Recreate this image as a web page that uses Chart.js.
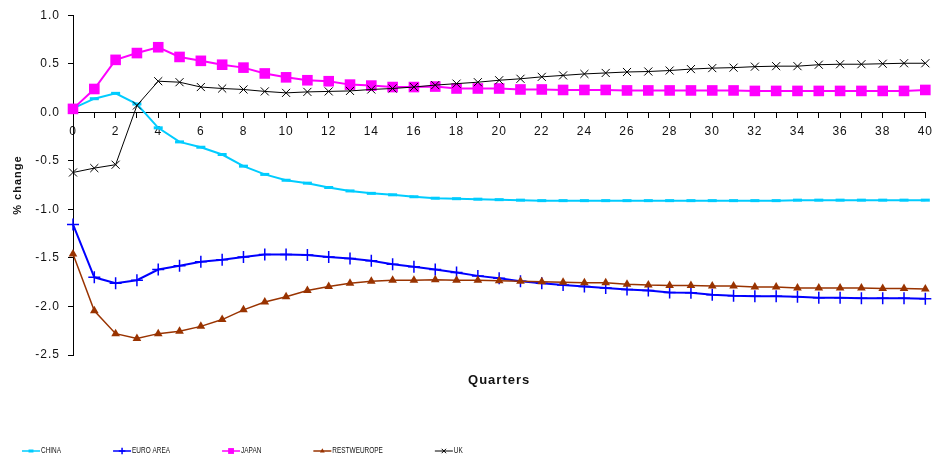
<!DOCTYPE html>
<html>
<head>
<meta charset="utf-8">
<script src="https://cdn.jsdelivr.net/npm/chart.js@4/dist/chart.umd.min.js"></script>
<style>
  html, body { margin: 0; padding: 0; background: #fff; }
  #wrap { width: 940px; height: 461px; }
</style>
</head>
<body>
<div id="wrap"><canvas id="chart" width="940" height="461"></canvas></div>
<script>
var quarters = [0, 1, 2, 3, 4, 5, 6, 7, 8, 9, 10, 11, 12, 13, 14, 15, 16, 17, 18, 19, 20,
  21, 22, 23, 24, 25, 26, 27, 28, 29, 30, 31, 32, 33, 34, 35, 36, 37, 38, 39, 40];

var china = [0.04, 0.14, 0.195, 0.085, -0.16, -0.305, -0.36, -0.435, -0.555, -0.64, -0.70,
  -0.73, -0.775, -0.81, -0.835, -0.85, -0.87, -0.885, -0.89, -0.895, -0.90,
  -0.905, -0.91, -0.91, -0.91, -0.91, -0.91, -0.91, -0.91, -0.91, -0.91,
  -0.91, -0.91, -0.91, -0.905, -0.905, -0.905, -0.905, -0.905, -0.905, -0.905];

var euroArea = [-1.155, -1.70, -1.76, -1.73, -1.62, -1.58, -1.54, -1.52, -1.49, -1.465, -1.465,
  -1.47, -1.49, -1.505, -1.53, -1.565, -1.59, -1.62, -1.65, -1.685, -1.71,
  -1.74, -1.76, -1.78, -1.795, -1.81, -1.825, -1.835, -1.855, -1.86, -1.88,
  -1.89, -1.895, -1.895, -1.90, -1.91, -1.91, -1.915, -1.915, -1.915, -1.92];

var japan = [0.035, 0.24, 0.54, 0.61, 0.67, 0.57, 0.53, 0.49, 0.46, 0.40, 0.36,
  0.33, 0.32, 0.285, 0.275, 0.26, 0.26, 0.265, 0.245, 0.245, 0.245,
  0.235, 0.235, 0.23, 0.23, 0.23, 0.225, 0.225, 0.225, 0.225, 0.225,
  0.225, 0.22, 0.22, 0.22, 0.22, 0.22, 0.22, 0.22, 0.22, 0.23];

var restWEurope = [-1.46, -2.045, -2.28, -2.33, -2.28, -2.255, -2.205, -2.135, -2.035, -1.955, -1.90,
  -1.835, -1.795, -1.76, -1.74, -1.73, -1.73, -1.725, -1.73, -1.73, -1.735,
  -1.74, -1.745, -1.75, -1.755, -1.755, -1.77, -1.78, -1.785, -1.785, -1.79,
  -1.79, -1.80, -1.80, -1.81, -1.81, -1.81, -1.81, -1.815, -1.815, -1.82];

var uk = [-0.62, -0.575, -0.54, 0.07, 0.32, 0.31, 0.26, 0.245, 0.235, 0.215, 0.20,
  0.21, 0.215, 0.22, 0.235, 0.245, 0.26, 0.28, 0.295, 0.31, 0.33,
  0.345, 0.365, 0.38, 0.395, 0.405, 0.415, 0.42, 0.43, 0.445, 0.455,
  0.46, 0.47, 0.475, 0.475, 0.49, 0.495, 0.495, 0.50, 0.505, 0.505];

var seriesNames = ["CHINA", "EURO AREA", "JAPAN", "RESTWEUROPE", "UK"];

var FONT = '"Liberation Sans", Arial, sans-serif';

// the Excel export looks letter-spaced, canvas can do that
var spacingPlugin = {
  id: "spacing",
  beforeLayout: function (chart) { chart.ctx.letterSpacing = "1px"; },
  beforeDraw: function (chart) { chart.ctx.letterSpacing = "1px"; }
};

function legendMarker(ctx, style, cx, cy, r) {
  ctx.beginPath();
  if (style === "line") {
    ctx.moveTo(cx - r, cy); ctx.lineTo(cx + r, cy); ctx.stroke();
  } else if (style === "cross") {
    ctx.moveTo(cx - r, cy); ctx.lineTo(cx + r, cy);
    ctx.moveTo(cx, cy - r); ctx.lineTo(cx, cy + r); ctx.stroke();
  } else if (style === "crossRot") {
    var d = r * Math.SQRT1_2;
    ctx.moveTo(cx - d, cy - d); ctx.lineTo(cx + d, cy + d);
    ctx.moveTo(cx + d, cy - d); ctx.lineTo(cx - d, cy + d); ctx.stroke();
  } else if (style === "rect") {
    var s = r * Math.SQRT1_2;
    ctx.fillRect(cx - s, cy - s, 2 * s, 2 * s);
  } else if (style === "triangle") {
    ctx.moveTo(cx, cy - r);
    ctx.lineTo(cx + r * 0.866, cy + r * 0.5);
    ctx.lineTo(cx - r * 0.866, cy + r * 0.5);
    ctx.closePath(); ctx.fill();
  }
}

var legendPlugin = {
  id: "sheetLegend",
  afterDraw: function (chart) {
    var ctx = chart.ctx;
    var x = 22, y = 451;
    ctx.save();
    ctx.letterSpacing = "0px";
    chart.data.datasets.forEach(function (ds) {
      ctx.strokeStyle = ds.borderColor;
      ctx.fillStyle = ds.pointBackgroundColor;
      ctx.lineWidth = Math.min(ds.borderWidth, 1.5);
      ctx.beginPath();
      ctx.moveTo(x, y);
      ctx.lineTo(x + 18, y);
      ctx.stroke();
      ctx.lineWidth = ds.pointBorderWidth;
      legendMarker(ctx, ds.pointStyle, x + 9, y, ds.pointRadius * 0.55);

      ctx.save();
      ctx.translate(x + 19, y);
      ctx.scale(0.77, 1);
      ctx.font = "8.4px " + FONT;
      ctx.fillStyle = "#111";
      ctx.textBaseline = "middle";
      ctx.fillText(ds.label, 0, 0);
      var w = ctx.measureText(ds.label).width * 0.77;
      ctx.restore();
      x += 19 + w + 52;
    });
    ctx.restore();
  }
};

var ctx = document.getElementById("chart").getContext("2d");
var chart = new Chart(ctx, {
  type: "line",
  data: {
    labels: quarters,
    datasets: [
      {
        label: seriesNames[0],
        data: china,
        borderColor: "#00CCFF",
        backgroundColor: "#00CCFF",
        pointBackgroundColor: "#00CCFF",
        borderWidth: 2,
        pointStyle: "line",
        pointRadius: 4.5,
        pointBorderWidth: 3,
        order: 5
      },
      {
        label: seriesNames[1],
        data: euroArea,
        borderColor: "#0000FF",
        backgroundColor: "#0000FF",
        pointBackgroundColor: "#0000FF",
        borderWidth: 2,
        pointStyle: "cross",
        pointRadius: 6,
        pointBorderWidth: 1.5,
        order: 4
      },
      {
        label: seriesNames[2],
        data: japan,
        borderColor: "#FF00FF",
        backgroundColor: "#FF00FF",
        pointBackgroundColor: "#FF00FF",
        borderWidth: 2,
        pointStyle: "rect",
        pointRadius: 7.5,
        pointBorderWidth: 0,
        order: 3
      },
      {
        label: seriesNames[3],
        data: restWEurope,
        borderColor: "#993300",
        backgroundColor: "#993300",
        pointBackgroundColor: "#993300",
        borderWidth: 1.5,
        pointStyle: "triangle",
        pointRadius: 5,
        pointBorderWidth: 0,
        order: 2
      },
      {
        label: seriesNames[4],
        data: uk,
        borderColor: "#000000",
        backgroundColor: "#000000",
        pointBackgroundColor: "#000000",
        borderWidth: 1,
        pointStyle: "crossRot",
        pointRadius: 5.7,
        pointBorderWidth: 1,
        order: 1
      }
    ]
  },
  options: {
    responsive: false,
    animation: false,
    events: [],
    layout: { padding: { top: 14, right: 13, bottom: 0, left: 0 } },
    elements: { line: { tension: 0 } },
    datasets: { line: { clip: false } },
    plugins: {
      legend: { display: false },
      tooltip: { enabled: false }
    },
    scales: {
      x: {
        type: "category",
        position: { y: 0 },
        border: { display: true, color: "#000", width: 1 },
        grid: { drawOnChartArea: false, tickLength: 5, color: "#000" },
        ticks: {
          autoSkip: false,
          maxRotation: 0,
          padding: 7,
          color: "#111",
          font: { family: FONT, size: 12 },
          callback: function (v, i) {
            return i % 2 === 0 ? this.getLabelForValue(v) : "";
          }
        }
      },
      x2: {
        type: "category",
        position: "bottom",
        border: { display: false },
        grid: { display: false },
        ticks: { display: false },
        title: {
          display: true,
          text: "Quarters",
          color: "#111",
          font: { family: FONT, size: 13, weight: "bold" },
          padding: { top: 0, bottom: 73 }
        },
        afterFit: function (scale) { scale.height = 106; }
      },
      y: {
        min: -2.5,
        max: 1.0,
        border: { display: true, color: "#000", width: 1 },
        grid: { drawOnChartArea: false, tickLength: 5, color: "#000" },
        ticks: {
          stepSize: 0.5,
          padding: 8,
          color: "#111",
          font: { family: FONT, size: 12 },
          callback: function (v) { return v.toFixed(1); }
        },
        title: {
          display: true,
          text: "% change",
          color: "#111",
          font: { family: FONT, size: 11, weight: "bold" },
          padding: { top: 11, bottom: 0 }
        },
        afterFit: function (scale) { scale.width = 73; }
      }
    }
  },
  plugins: [spacingPlugin, legendPlugin]
});
</script>
</body>
</html>
